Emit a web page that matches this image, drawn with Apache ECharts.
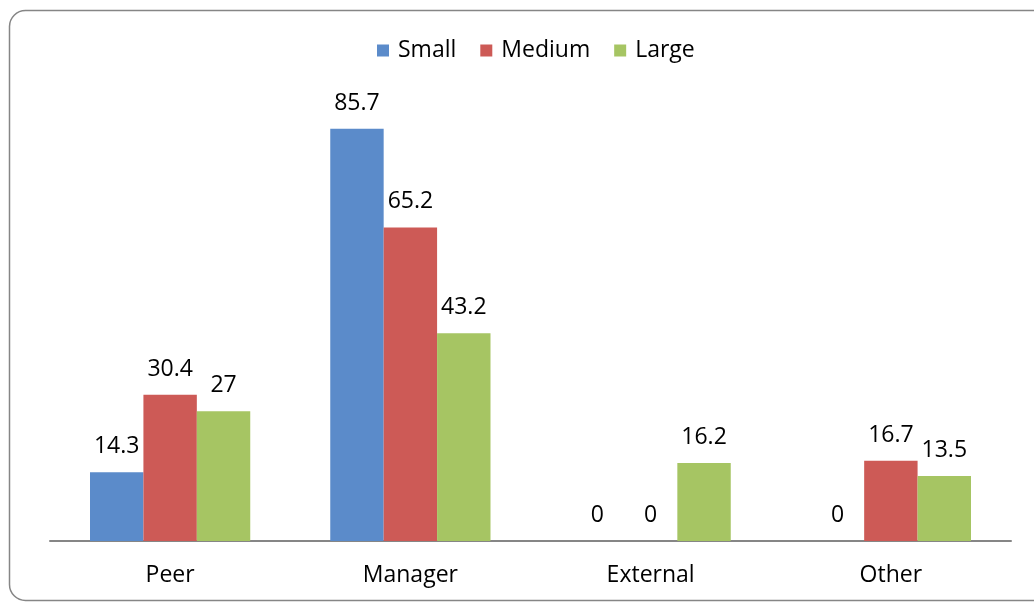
<!DOCTYPE html>
<html><head><meta charset="utf-8">
<script src="https://cdn.jsdelivr.net/npm/echarts@6/dist/echarts.min.js"></script>
<style>html,body{margin:0;padding:0;background:#fff}#c{width:1034px;height:603px}</style>
</head><body><div id="c"></div>
<script>
const categories = ['Peer', 'Manager', 'External', 'Other'];
const small = [14.3, 85.7, 0, 0];
const medium = [30.4, 65.2, 0, 16.7];
const large = [27, 43.2, 16.2, 13.5];
const seriesNames = ['Small', 'Medium', 'Large'];
const colors = ['#5B8BCA', '#CD5A56', '#A6C563'];
const FONT = 'Open Sans';

const chart = echarts.init(document.getElementById('c'));
const mk = (name, data, color) => ({
  name, type: 'bar', data, barGap: '0%', barCategoryGap: '33.3%',
  itemStyle: {color},
  label: {show: true, position: 'top', distance: 14, color: '#000', fontFamily: FONT, fontSize: 23}
});
chart.setOption({
  animation: false,
  graphic: [{type: 'rect', shape: {x: 9.5, y: 10.5, width: 1050, height: 590, r: 16},
    style: {fill: 'none', stroke: '#868686', lineWidth: 1.5}, z: -1}],
  legend: {top: 34, left: 372, itemWidth: 12, itemHeight: 12, itemGap: 24, icon: 'rect',
    textStyle: {fontFamily: FONT, fontSize: 23, color: '#000', padding: [0, 0, 0, 4]}, data: seriesNames},
  grid: {left: 50, right: 23, top: 60, bottom: 62},
  xAxis: {type: 'category', data: categories,
    axisLine: {lineStyle: {color: '#868686', width: 2}}, axisTick: {show: false},
    axisLabel: {fontFamily: FONT, fontSize: 23, color: '#000', margin: 23}},
  yAxis: {type: 'value', min: 0, max: 100, show: false, splitLine: {show: false}},
  series: [mk(seriesNames[0], small, colors[0]), mk(seriesNames[1], medium, colors[1]), mk(seriesNames[2], large, colors[2])]
});
</script></body></html>
